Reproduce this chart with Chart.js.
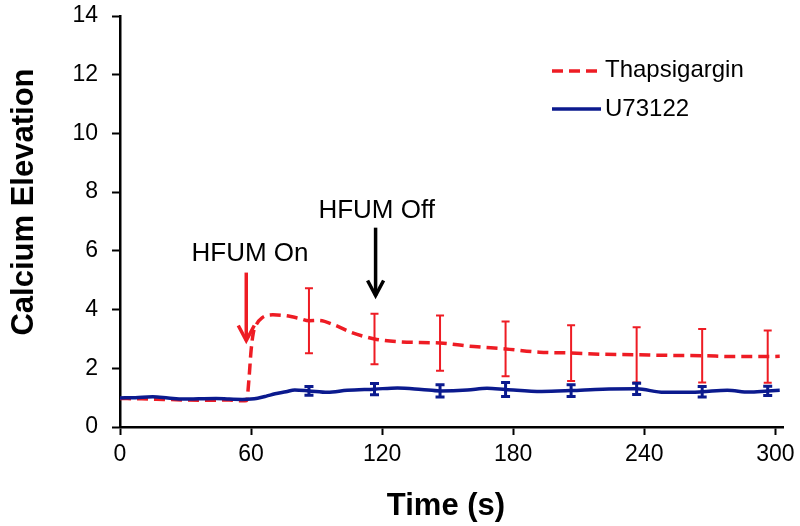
<!DOCTYPE html>
<html>
<head>
<meta charset="utf-8">
<script src="https://cdn.jsdelivr.net/npm/chart.js@4"></script>
<style>
  html, body { margin: 0; padding: 0; background: #fff; }
  #wrap { width: 800px; height: 526px; }
</style>
</head>
<body>
<div id="wrap"><canvas id="chart" width="800" height="526"></canvas></div>
<script>
// values
const thapsTime = [0, 10, 20, 30, 40, 50, 56, 58, 59, 60, 61, 62.5, 65, 70, 76, 82, 86.5, 91, 98, 106, 116.5, 128, 146.5, 162, 176.5, 192, 206.5, 220, 236.5, 251, 266.5, 281, 296.5, 302];
const thapsVals = [0.97, 0.96, 0.94, 0.92, 0.91, 0.92, 0.89, 0.90, 1.6, 2.6, 3.2, 3.5, 3.72, 3.82, 3.79, 3.70, 3.62, 3.63, 3.48, 3.22, 3.00, 2.90, 2.86, 2.74, 2.66, 2.55, 2.52, 2.48, 2.46, 2.44, 2.43, 2.40, 2.40, 2.41];

const u73Time = [0, 7, 15, 22, 29, 36, 44, 50, 56, 60, 63, 67, 71, 76, 80, 86.5, 95, 104, 116.5, 127, 138, 146.5, 159, 168, 176.5, 193, 206.5, 221, 236.5, 249, 259, 266.5, 278, 288, 296.5, 302];
const u73Vals = [0.99, 1.00, 1.03, 0.99, 0.95, 0.96, 0.97, 0.95, 0.94, 0.95, 0.98, 1.05, 1.13, 1.20, 1.26, 1.23, 1.18, 1.25, 1.29, 1.33, 1.28, 1.23, 1.26, 1.32, 1.28, 1.21, 1.24, 1.29, 1.30, 1.18, 1.18, 1.20, 1.25, 1.19, 1.23, 1.25];

const errTimes = [86.5, 116.5, 146.5, 176.5, 206.5, 236.5, 266.5, 296.5];
const thapsErr = [1.11, 0.86, 0.94, 0.93, 0.95, 0.94, 0.91, 0.89];
const u73Err = [0.15, 0.19, 0.21, 0.24, 0.20, 0.19, 0.18, 0.16];

const xTicks = [0, 60, 120, 180, 240, 300];
const yTicks = [0, 2, 4, 6, 8, 10, 12, 14];

const seriesNames = ['Thapsigargin', 'U73122'];
const xTitle = 'Time (s)';
const yTitle = 'Calcium Elevation';

// annotations: label, x, label y, arrow top, arrow tip
const noteLabels = ['HFUM On', 'HFUM Off'];
const noteTextX = [59.5, 117.5];
const noteTextY = [5.64, 7.13];
const arrowX = [57.8, 117.0];
const arrowTop = [5.26, 6.79];
const arrowTip = [2.88, 4.41];

const RED = '#ee1c24';
const BLUE = '#0b1a8e';
const FONT = "'Liberation Sans', Arial, sans-serif";

function toPoints(xs, ys) {
  return xs.map((x, i) => ({ x: x, y: ys[i] }));
}

function fixedTicks(list) {
  return (scale) => { scale.ticks = list.map((v) => ({ value: v })); };
}

const extras = {
  id: 'extras',
  afterDatasetsDraw(chart) {
    const ctx = chart.ctx;
    const xs = chart.scales.x, ys = chart.scales.y;

    // error bars
    const bars = [
      { t: thapsTime, v: thapsVals, e: thapsErr, color: RED, w: 2, cap: 4 },
      { t: u73Time, v: u73Vals, e: u73Err, color: BLUE, w: 3, cap: 4.5 },
    ];
    ctx.save();
    for (const b of bars) {
      ctx.strokeStyle = b.color;
      ctx.lineWidth = b.w;
      errTimes.forEach((t, i) => {
        const idx = b.t.indexOf(t);
        if (idx < 0) return;
        const m = b.v[idx];
        const px = xs.getPixelForValue(t);
        const top = ys.getPixelForValue(m + b.e[i]);
        const bot = ys.getPixelForValue(m - b.e[i]);
        ctx.beginPath();
        ctx.moveTo(px, top); ctx.lineTo(px, bot);
        ctx.moveTo(px - b.cap, top); ctx.lineTo(px + b.cap, top);
        ctx.moveTo(px - b.cap, bot); ctx.lineTo(px + b.cap, bot);
        ctx.stroke();
      });
    }

    // arrows and their labels
    const arrowColors = [RED, '#000'];
    ctx.font = '26px ' + FONT;
    ctx.textAlign = 'center';
    ctx.textBaseline = 'alphabetic';
    noteLabels.forEach((lab, i) => {
      ctx.fillStyle = '#000';
      ctx.fillText(lab, xs.getPixelForValue(noteTextX[i]), ys.getPixelForValue(noteTextY[i]));
      const ax = xs.getPixelForValue(arrowX[i]);
      const y0 = ys.getPixelForValue(arrowTop[i]);
      const y1 = ys.getPixelForValue(arrowTip[i]);
      ctx.strokeStyle = arrowColors[i];
      ctx.lineWidth = 3.5;
      ctx.lineJoin = 'miter';
      ctx.beginPath();
      ctx.moveTo(ax, y0); ctx.lineTo(ax, y1 - 2);
      ctx.stroke();
      ctx.beginPath();
      ctx.moveTo(ax - 8, y1 - 17);
      ctx.lineTo(ax, y1 - 2);
      ctx.lineTo(ax + 8, y1 - 17);
      ctx.stroke();
    });

    // legend
    ctx.lineWidth = 3.5;
    ctx.strokeStyle = RED;
    ctx.setLineDash([11, 6]);
    ctx.beginPath(); ctx.moveTo(552, 71); ctx.lineTo(597, 71); ctx.stroke();
    ctx.setLineDash([]);
    ctx.strokeStyle = BLUE;
    ctx.beginPath(); ctx.moveTo(552, 109); ctx.lineTo(601, 109); ctx.stroke();
    ctx.fillStyle = '#000';
    ctx.font = '24px ' + FONT;
    ctx.textAlign = 'left';
    ctx.textBaseline = 'middle';
    ctx.fillText(seriesNames[0], 605, 70);
    ctx.fillText(seriesNames[1], 605, 109);
    ctx.restore();
  },
  afterDraw(chart) {
    const ctx = chart.ctx;
    ctx.save();
    ctx.fillStyle = '#000';
    ctx.font = 'bold 31px ' + FONT;
    ctx.textAlign = 'center';
    ctx.textBaseline = 'alphabetic';
    ctx.fillText(xTitle, 446, 515);
    ctx.translate(33, 202);
    ctx.rotate(-Math.PI / 2);
    ctx.fillText(yTitle, 0, 0);
    ctx.restore();
  },
};

new Chart(document.getElementById('chart'), {
  type: 'line',
  data: {
    datasets: [
      {
        label: seriesNames[1],
        data: toPoints(u73Time, u73Vals),
        borderColor: BLUE,
        borderWidth: 3.5,
        pointRadius: 0,
        cubicInterpolationMode: 'monotone',
      },
      {
        label: seriesNames[0],
        data: toPoints(thapsTime, thapsVals),
        borderColor: RED,
        borderWidth: 3.5,
        borderDash: [11, 6],
        pointRadius: 0,
        cubicInterpolationMode: 'monotone',
      },
    ],
  },
  options: {
    responsive: false,
    animation: false,
    layout: { padding: { top: 16, right: 17, left: 0, bottom: 0 } },
    plugins: { legend: { display: false }, tooltip: { enabled: false } },
    scales: {
      x: {
        type: 'linear',
        min: 0,
        max: 303.5,
        afterBuildTicks: fixedTicks(xTicks),
        ticks: { maxRotation: 0, autoSkip: false, color: '#000', padding: 6, font: { family: FONT, size: 23 } },
        grid: { drawOnChartArea: false, tickLength: 8, tickColor: '#000', tickWidth: 2 },
        border: { color: '#000', width: 2.5 },
        afterFit: (s) => { s.height = 99; s.paddingLeft = 0; s.paddingRight = 0; },
      },
      y: {
        min: 0,
        max: 14,
        afterBuildTicks: fixedTicks(yTicks),
        ticks: { autoSkip: false, color: '#000', padding: 14, font: { family: FONT, size: 23 } },
        grid: { drawOnChartArea: false, tickLength: 8, tickColor: '#000', tickWidth: 2 },
        border: { color: '#000', width: 2.5 },
        afterFit: (s) => { s.width = 120; s.paddingTop = 0; s.paddingBottom = 0; },
      },
    },
  },
  plugins: [extras],
});
</script>
</body>
</html>
